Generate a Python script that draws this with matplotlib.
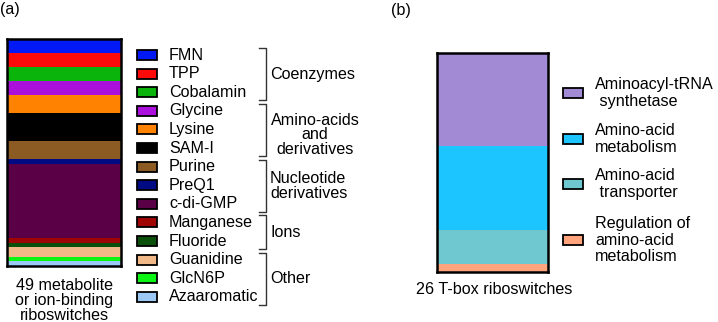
import matplotlib
matplotlib.use('Agg')
import matplotlib.pyplot as plt
from matplotlib.patches import Rectangle
import numpy as np

plt.rcParams['font.family'] = ['Liberation Sans', 'DejaVu Sans']
plt.rcParams['font.size'] = 11.6

# Data (a): 49 metabolite / ion-binding riboswitches, listed top to bottom
meta_labels = ['FMN', 'TPP', 'Cobalamin', 'Glycine', 'Lysine', 'SAM-I', 'Purine',
               'PreQ1', 'c-di-GMP', 'Manganese', 'Fluoride', 'Guanidine', 'GlcN6P',
               'Azaaromatic']
meta_counts = [3, 3, 3, 3, 4, 6, 4, 1, 16, 1, 1, 2, 1, 1]
meta_colors = ['#0019f5', '#ff0a0a', '#0ab40a', '#aa0fdc', '#ff8200', '#000000', '#8c5a23',
               '#000a82', '#5a0046', '#a00505', '#0a500a', '#f0b987', '#0af514',
               '#9bc8f5']
group_labels = ['Coenzymes', 'Amino-acids\nand\nderivatives', 'Nucleotide\nderivatives',
                'Ions', 'Other']
group_sizes = [3, 3, 3, 2, 3]

# Data (b): 26 T-box riboswitches, listed top to bottom
tbox_labels = ['Aminoacyl-tRNA\n synthetase', 'Amino-acid\nmetabolism',
               'Amino-acid\n transporter', 'Regulation of\namino-acid\nmetabolism']
tbox_counts = [11, 10, 4, 1]
tbox_colors = ['#a38ad4', '#1cc5ff', '#6fc8cf', '#ffa47c']

W, H = 718, 322
fig = plt.figure(figsize=(W / 100, H / 100), dpi=100)


def px_axes(x0, y0, x1, y1):
    return fig.add_axes([x0 / W, 1 - y1 / H, (x1 - x0) / W, (y1 - y0) / H])


def stacked(ax, counts, colors):
    total = sum(counts)
    bottoms = total - np.cumsum(counts)
    ax.bar(0, counts, bottom=bottoms, width=1.0, color=colors, linewidth=0)
    ax.set_xlim(-0.5, 0.5)
    ax.set_ylim(0, total)
    ax.set_xticks([])
    ax.set_yticks([])
    for s in ax.spines.values():
        s.set_linewidth(1.8)
        s.set_zorder(5)


ax_a = px_axes(7, 39, 121, 266)
stacked(ax_a, meta_counts, meta_colors)
ax_b = px_axes(437, 53, 548, 272)
stacked(ax_b, tbox_counts, tbox_colors)

# overlay in pixel coordinates for legends, brackets and labels
ov = fig.add_axes([0, 0, 1, 1])
ov.set_xlim(0, W)
ov.set_ylim(H, 0)
ov.axis('off')

ov.text(0, 9, '(a)', va='center', ha='left')
ov.text(391, 10, '(b)', va='center', ha='left')

ov.text(64, 301, '49 metabolite\nor ion-binding\nriboswitches', ha='center', va='center',
        linespacing=1.0)
ov.text(494, 289, '26 T-box riboswitches', ha='center', va='center')

# legend (a)
row0, step = 55, 18.6
for i, (lab, col) in enumerate(zip(meta_labels, meta_colors)):
    y = row0 + i * step
    ov.add_patch(Rectangle((137, y - 5), 20, 10, facecolor=col, edgecolor='black', lw=1.3))
    ov.text(169, y, lab, va='center', ha='left')

# brackets
start = 0
for glab, n in zip(group_labels, group_sizes):
    top = row0 + start * step - 7
    bot = row0 + (start + n - 1) * step + 8
    ov.plot([259, 266, 266, 259], [top, top, bot, bot], color='#333333', lw=1.0)
    mid = (top + bot) / 2
    if glab.startswith('Amino'):
        ov.text(315, mid + 5, glab, ha='center', va='center', multialignment='center',
                linespacing=0.95)
    else:
        ov.text(270, mid, glab, ha='left', va='center', linespacing=1.0)
    start += n

# legend (b)
tbox_rows = [93, 139, 184, 240]
for y, lab, col in zip(tbox_rows, tbox_labels, tbox_colors):
    ov.add_patch(Rectangle((563, y - 5), 20, 10, facecolor=col, edgecolor='black', lw=1.3))
    ov.text(595, y, lab, va='center', ha='left', linespacing=1.12)

fig.savefig('out.png', dpi=100)
